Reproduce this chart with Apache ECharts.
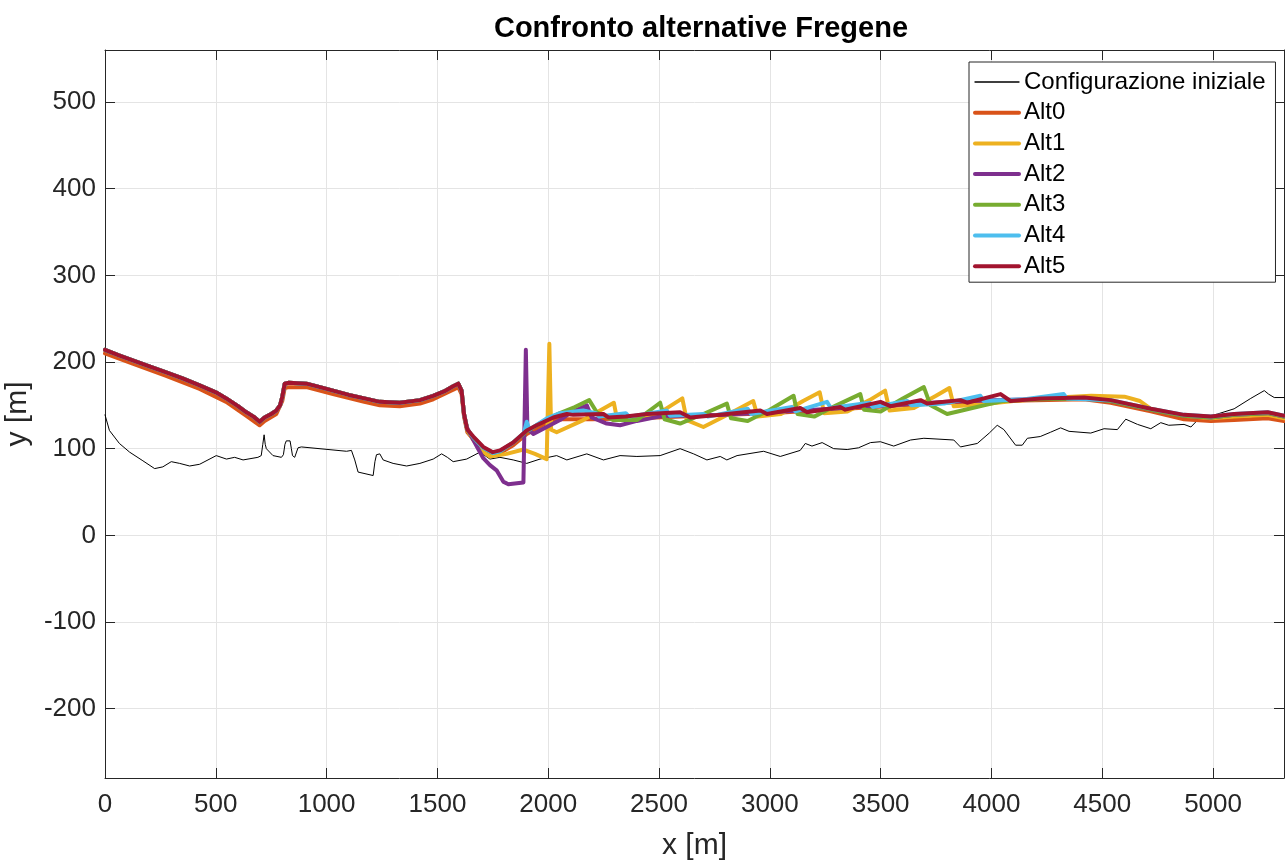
<!DOCTYPE html>
<html>
<head>
<meta charset="utf-8">
<script src="https://cdn.jsdelivr.net/npm/echarts@6/dist/echarts.min.js"></script>
<style>
html,body{margin:0;padding:0;background:#fff;}
#chart{width:1285px;height:860px;}
</style>
</head>
<body>
<div id="chart"></div>
<script>
// ---------- data ----------
const seriesNames = ['Configurazione iniziale','Alt0','Alt1','Alt2','Alt3','Alt4','Alt5'];
const seriesColors = ['#000000','#D95319','#EDB120','#7E2F8E','#77AC30','#4DBEEE','#A2142F'];

const xTickStep = 500;
const yRange = [-280, 560];
const xRange = [0, 5320];

const configIniziale = [
 [0,139],[20,121],[65,106],[111,96],[171,86],[224,77],[261,79],[299,85],[337,83],[382,80],[427,82],
 [502,92],[548,88],[585,90],[623,87],[690,90],[705,92],[712,105],[718,116],[723,105],[728,100],[758,92],
 [796,90],[805,93],[812,105],[818,109],[835,109],[841,100],[846,92],[856,90],[864,92],[871,101],[886,102],
 [1090,97],[1112,98],[1127,87],[1142,73],[1210,69],[1218,85],[1225,93],[1240,94],[1255,87],[1300,83],
 [1361,80],[1421,83],[1481,88],[1519,94],[1545,90],[1571,85],[1632,88],[1692,96],[1737,88],[1782,90],
 [1842,87],[1903,83],[1963,88],[2038,92],[2084,87],[2174,94],[2249,87],[2324,92],[2400,91],[2505,92],
 [2595,100],[2656,94],[2716,87],[2776,91],[2806,87],[2852,92],[2972,97],[3047,91],[3137,98],[3160,106],
 [3190,103],[3236,107],[3288,100],[3349,99],[3400,101],[3454,107],[3499,108],[3559,103],[3635,110],
 [3695,112],[3830,110],[3860,102],[3936,106],[3990,118],[4026,127],[4056,122],[4109,104],[4139,104],
 [4162,112],[4220,114],[4267,119],[4312,124],[4350,120],[4448,118],[4508,123],[4568,122],[4606,134],
 [4659,128],[4719,123],[4764,130],[4800,127],[4869,128],[4900,125],[4930,133],[5020,140],[5095,146],
 [5170,158],[5231,167],[5250,163],[5276,159],[5320,159]
];

// shared western part (Alt1..Alt5 coincide here)
const commonWest = [
 [0,214],[60,208],[125,202],[200,195],[276,188],[350,181],[427,173],[500,165],[547,158],[600,149],
 [638,142],[670,137],[698,131],[720,136],[750,140],[773,144],[790,150],[800,160],[811,175],[830,176],
 [909,175],[970,171],[1029,167],[1100,162],[1170,158],[1240,154],[1330,153],[1421,156],[1481,161],
 [1530,166],[1571,172],[1594,175],[1609,167]
];

const alt0 = [
 [0,210],[125,198],[276,184],[427,169],[547,154],[638,138],[698,127],[720,132],[773,140],[800,155],
 [811,170],[830,171],[909,171],[1029,163],[1170,154],[1240,150],[1330,149],[1421,152],[1481,157],
 [1571,168],[1594,171],[1609,163],[1620,137],[1635,119],[1662,111],[1707,99],[1750,93],[1782,95],
 [1842,104],[1903,117],[1993,130],[2053,134],[2200,134],[2400,135],[2600,137],[2800,139],[3000,141],
 [3200,144],[3400,147],[3600,150],[3800,153],[4000,155],[4200,156],[4418,157],[4538,153],[4719,143],
 [4869,134],[4990,132],[5095,133],[5246,135],[5320,132]
];

const alt1East = [
 [1620,140],[1635,121],[1662,110],[1707,96],[1737,91],[1812,94],[1888,99],[1940,94],[1993,88],
 [2005,221],[2013,122],[2038,119],[2158,133],[2296,153],[2309,136],[2400,133],[2500,141],[2605,158],
 [2625,133],[2700,125],[2800,138],[2925,155],[2945,137],[3050,140],[3150,155],[3225,165],[3245,141],
 [3350,143],[3450,156],[3520,167],[3540,144],[3650,147],[3750,161],[3810,170],[3830,149],[3950,151],
 [4100,155],[4300,159],[4450,161],[4600,160],[4670,155],[4719,146],[4869,138],[4990,135],[5095,137],
 [5246,139],[5320,135]
];

const alt2East = [
 [1620,140],[1632,125],[1662,110],[1707,89],[1737,81],[1767,75],[1797,62],[1820,59],[1888,61],
 [1899,214],[1906,123],[1933,117],[1993,125],[2053,133],[2098,141],[2174,150],[2196,136],[2264,129],
 [2324,127],[2400,132],[2500,137],[2600,138],[2800,139],[3000,142],[3200,145],[3400,148],[3600,151],
 [3800,154],[4000,156],[4200,157],[4418,158],[4538,155],[4719,145],[4869,138],[4990,136],[5095,139],
 [5246,141],[5320,137]
];

const alt3East = [
 [1620,140],[1635,122],[1662,113],[1707,101],[1750,95],[1782,97],[1842,107],[1903,120],[1993,134],
 [2053,141],[2120,148],[2185,156],[2219,142],[2294,133],[2400,133],[2505,153],[2525,134],[2595,129],
 [2700,140],[2806,152],[2825,135],[2900,132],[3000,145],[3107,161],[3125,140],[3200,137],[3300,150],
 [3408,163],[3425,145],[3500,143],[3600,158],[3695,171],[3725,150],[3800,140],[3900,146],[3966,150],
 [4050,155],[4200,157],[4418,158],[4538,155],[4719,145],[4869,138],[4990,136],[5095,139],[5246,141],
 [5320,137]
];

const alt4East = [
 [1620,140],[1635,122],[1662,113],[1707,101],[1750,95],[1782,97],[1842,107],[1890,118],[1903,131],
 [1915,122],[1993,135],[2053,141],[2158,144],[2215,141],[2230,137],[2350,141],[2365,137],[2535,144],
 [2550,138],[2700,140],[2720,137],[2900,146],[2915,140],[3100,148],[3115,143],[3258,154],[3275,147],
 [3450,153],[3465,148],[3620,155],[3640,150],[3786,152],[3950,161],[3965,155],[4150,157],[4326,163],
 [4340,158],[4538,156],[4719,146],[4869,139],[4990,137],[5095,140],[5246,142],[5320,138]
];

const alt5East = [
 [1620,140],[1635,122],[1662,114],[1707,102],[1750,96],[1782,98],[1842,107],[1903,121],[1948,127],
 [2023,136],[2084,140],[2113,139],[2249,140],[2271,136],[2350,137],[2445,140],[2595,142],[2641,136],
 [2776,139],[2957,144],[2987,140],[3137,147],[3168,142],[3318,148],[3340,145],[3499,154],[3544,149],
 [3680,156],[3710,152],[3860,156],[3890,153],[4041,163],[4086,155],[4222,158],[4418,159],[4538,156],
 [4719,146],[4869,139],[4990,137],[5095,140],[5246,142],[5320,138]
];

const seriesData = [
 configIniziale,
 alt0,
 commonWest.concat(alt1East),
 commonWest.concat(alt2East),
 commonWest.concat(alt3East),
 commonWest.concat(alt4East),
 commonWest.concat(alt5East)
];

// ---------- chart ----------
const FONT = '"Liberation Sans", Arial, Helvetica, sans-serif';
const AX = '#262626';
const chart = echarts.init(document.getElementById('chart'), null, {renderer:'canvas'});

const axisCommon = {
  axisLine:{show:true, onZero:false, lineStyle:{color:AX, width:1}},
  axisTick:{show:true, inside:true, length:10, lineStyle:{color:AX, width:1}},
};
const plainNum = v => String(v);

const option = {
  animation:false,
  backgroundColor:'#ffffff',
  textStyle:{fontFamily:FONT},
  title:{
    text:'Confronto alternative Fregene',
    left:696, top:9, textAlign:'center',
    textStyle:{fontFamily:FONT, fontSize:29, fontWeight:'bold', color:'#000'}
  },
  grid:{left:105, right:1, top:50, bottom:82, containLabel:false, outerBoundsMode:'none'},
  legend:{
    orient:'vertical',
    left:969, top:62,
    data:seriesNames.map((n,i)=>({name:n, lineStyle:{width: i===0 ? 1.3 : 4, color: seriesColors[i], opacity:1}})),
    itemWidth:44, itemHeight:14, itemGap:4.7,
    padding:[7,10,3,4],
    borderColor:AX, borderWidth:1, backgroundColor:'#fff',
    itemStyle:{color:'rgba(0,0,0,0)', borderWidth:0, opacity:0},
    lineStyle:{width:4},
    textStyle:{fontFamily:FONT, fontSize:24, color:'#000', lineHeight:26}
  },
  xAxis:[
    Object.assign({
      type:'value', min:xRange[0], max:xRange[1], interval:xTickStep, position:'bottom',
      name:'x [m]', nameLocation:'middle', nameGap:53,
      nameTextStyle:{fontFamily:FONT, fontSize:30, color:AX},
      axisLabel:{fontFamily:FONT, fontSize:26, color:AX, margin:14, showMaxLabel:false, formatter:plainNum},
      splitLine:{show:true, lineStyle:{color:'#e4e4e4', width:1}}
    }, axisCommon),
    Object.assign({
      type:'value', min:xRange[0], max:xRange[1], interval:xTickStep, position:'top',
      axisLabel:{show:false}, splitLine:{show:false}
    }, axisCommon)
  ],
  yAxis:[
    Object.assign({
      type:'value', min:yRange[0], max:yRange[1], splitNumber:8, position:'left',
      name:'y [m]', nameLocation:'middle', nameGap:55,
      nameTextStyle:{fontFamily:FONT, fontSize:30, color:AX},
      axisLabel:{fontFamily:FONT, fontSize:26, color:AX, margin:9, showMinLabel:false, showMaxLabel:false, formatter:plainNum},
      splitLine:{show:true, lineStyle:{color:'#e4e4e4', width:1}}
    }, axisCommon),
    Object.assign({
      type:'value', min:yRange[0], max:yRange[1], splitNumber:8, position:'right',
      axisLabel:{show:false}, splitLine:{show:false}
    }, axisCommon)
  ],
  series: seriesNames.map((n,i)=>({
    name:n, type:'line', data:seriesData[i],
    xAxisIndex:0, yAxisIndex:0,
    symbol:'none', showSymbol:false, clip:true,
    color:seriesColors[i],
    lineStyle:{color:seriesColors[i], width: i===0 ? 1 : 4, join:'round', cap:'round'},
    emphasis:{disabled:true}, z: 2 + i
  }))
};
chart.setOption(option);
</script>
</body>
</html>
